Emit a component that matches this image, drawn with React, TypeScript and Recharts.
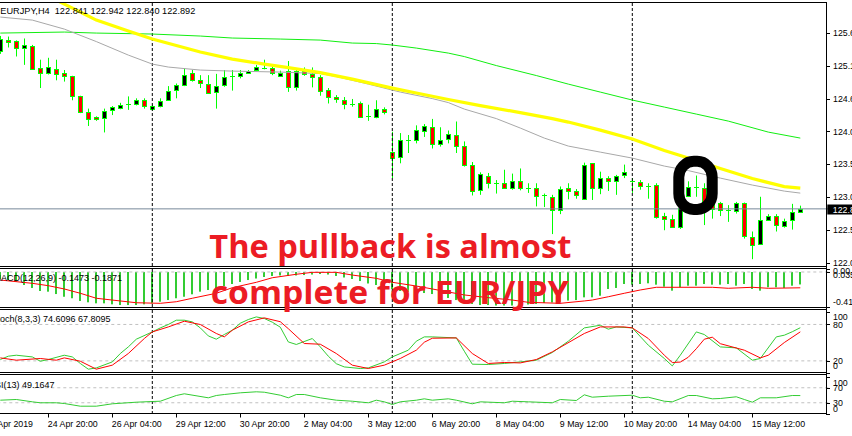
import React from "react";
import { Bar, ComposedChart, Line, ReferenceLine, XAxis, YAxis } from "recharts";

const WIDTH = 852;
const HEIGHT = 436;
const SLOTS = 104; // 101 candles + empty room before the price scale
const PLOT_LEFT = -3.7;
const AXIS_W = 23.7;
const FONT = '"Liberation Sans", Arial, sans-serif';
const AXIS_FONT = 8.8;

// EURJPY H4 candles, oldest first
const opens = [
  125.34, 125.52, 125.5, 125.39, 125.43, 125.08, 125.0, 125.07, 125.0, 124.95,
  124.64, 124.39, 124.32, 124.31, 124.42, 124.47, 124.52, 124.52, 124.58, 124.44,
  124.5, 124.59, 124.74, 124.82, 125.0, 124.89, 124.84, 124.7, 124.82, 124.95,
  124.95, 125.0, 125.04, 125.08, 125.08, 124.97, 125.03, 124.78, 125.03, 124.99,
  124.94, 124.74, 124.63, 124.58, 124.52, 124.54, 124.34, 124.32, 124.45, 123.78,
  123.69, 123.96, 123.96, 124.11, 124.17, 123.91, 123.97, 124.04, 123.87, 123.58,
  123.18, 123.41, 123.3, 123.3, 123.22, 123.33, 123.21, 123.22, 123.1, 123.08,
  122.88, 123.22, 123.17, 123.05, 123.6, 123.21, 123.37, 123.34, 123.42, 123.33,
  123.31, 123.25, 123.27, 122.78, 122.74, 122.61, 123.09, 123.23, 123.21, 122.97,
  122.99, 122.88, 122.86, 122.98, 122.46, 122.34, 122.72, 122.78, 122.64, 122.72,
  122.841,
];
const highs = [
  125.58, 125.57, 125.51, 125.54, 125.44, 125.21, 125.24, 125.21, 125.05, 124.96,
  124.65, 124.45, 124.33, 124.45, 124.49, 124.54, 124.64, 124.61, 124.61, 124.51,
  124.61, 124.8, 124.84, 125.08, 125.05, 124.97, 124.97, 124.99, 125.05, 125.05,
  125.05, 125.05, 125.13, 125.21, 125.1, 125.04, 125.19, 125.05, 125.09, 125.09,
  124.97, 124.77, 124.66, 124.63, 124.6, 124.56, 124.51, 124.58, 124.47, 124.09,
  124.07, 124.04, 124.19, 124.21, 124.29, 124.16, 124.11, 124.25, 123.94, 123.62,
  123.46, 123.45, 123.34, 123.5, 123.44, 123.52, 123.29, 123.29, 123.13, 123.11,
  123.24, 123.29, 123.2, 123.61, 123.6, 123.47, 123.4, 123.42, 123.58, 123.37,
  123.34, 123.29, 123.29, 122.83, 122.8, 122.93, 123.32, 123.41, 123.29, 123.0,
  123.0, 122.95, 123.0, 122.99, 122.54, 123.08, 122.81, 122.81, 122.74, 122.97,
  122.942,
];
const lows = [
  125.3, 125.4, 125.26, 125.13, 125.06, 124.77, 124.98, 124.89, 124.87, 124.58,
  124.38, 124.18, 124.26, 124.08, 124.35, 124.44, 124.43, 124.5, 124.45, 124.42,
  124.47, 124.58, 124.61, 124.8, 124.87, 124.77, 124.68, 124.45, 124.79, 124.73,
  124.92, 124.99, 125.03, 125.06, 124.97, 124.95, 124.71, 124.73, 124.96, 124.78,
  124.65, 124.53, 124.54, 124.44, 124.48, 124.32, 124.26, 124.3, 124.36, 123.37,
  123.6, 123.76, 123.91, 124.01, 123.83, 123.86, 123.91, 123.76, 123.55, 123.1,
  123.11, 123.21, 123.13, 123.21, 123.19, 123.18, 123.14, 122.93, 122.92, 122.5,
  122.81, 123.04, 123.05, 123.03, 123.03, 123.12, 123.17, 123.11, 123.37, 123.14,
  123.19, 123.05, 122.74, 122.56, 122.6, 122.58, 123.08, 123.08, 122.64, 122.74,
  122.78, 122.69, 122.82, 122.43, 122.11, 122.33, 122.71, 122.54, 122.6, 122.57,
  122.84,
];
const closes = [
  125.53, 125.49, 125.39, 125.44, 125.08, 125.0, 125.09, 125.0, 124.96, 124.64,
  124.39, 124.28, 124.29, 124.42, 124.47, 124.51, 124.521, 124.58, 124.48, 124.49,
  124.57, 124.73, 124.82, 124.97, 124.89, 124.84, 124.7, 124.8, 124.94, 124.951,
  125.0, 125.03, 125.09, 125.081, 125.0, 125.01, 124.78, 125.03, 124.99, 124.95,
  124.73, 124.63, 124.6, 124.52, 124.521, 124.32, 124.341, 124.45, 124.41, 123.69,
  123.96, 123.961, 124.11, 124.18, 123.91, 123.97, 124.05, 123.87, 123.58, 123.18,
  123.43, 123.3, 123.301, 123.22, 123.33, 123.22, 123.211, 123.1, 123.101, 122.88,
  123.2, 123.17, 123.11, 123.58, 123.21, 123.37, 123.33, 123.41, 123.47, 123.331,
  123.25, 123.251, 122.78, 122.74, 122.61, 122.91, 123.23, 123.231, 122.98, 122.9,
  122.88, 122.881, 122.98, 122.47, 122.34, 122.72, 122.78, 122.64, 122.71, 122.85,
  122.892,
];

// moving averages, read at [candle index, price]
const maYellow: [number, number][] = [
  [4, 126.324], [8, 126.075], [10, 125.951], [12, 125.826], [16, 125.655], [19, 125.531],
  [25, 125.329], [29, 125.22], [33, 125.142], [36, 125.088], [40, 125.01], [44, 124.909],
  [49, 124.769], [52, 124.692], [56, 124.591], [60, 124.497], [65, 124.388], [69, 124.295],
  [71, 124.241], [75, 124.116], [79, 123.977], [83, 123.798], [86, 123.681], [90, 123.518],
  [94, 123.363], [98, 123.238], [100, 123.215],
];
const maGray: [number, number][] = [
  [0, 125.873], [4, 125.826], [8, 125.686], [12, 125.492], [16, 125.282], [19, 125.142],
  [21, 125.096], [25, 125.049], [29, 125.033], [35, 125.018], [40, 124.995], [42, 124.948],
  [46, 124.831], [50, 124.707], [54, 124.606], [56, 124.544], [58, 124.443], [62, 124.295],
  [65, 124.148], [68, 123.992], [71, 123.868], [75, 123.774], [79, 123.681], [83, 123.557],
  [86, 123.487], [90, 123.37], [94, 123.262], [98, 123.168], [100, 123.137],
];
const maGreen: [number, number][] = [
  [0, 125.624], [8, 125.64], [12, 125.624], [19, 125.609], [25, 125.578], [29, 125.547],
  [35, 125.531], [40, 125.515], [44, 125.469], [47, 125.461], [49, 125.438], [52, 125.391],
  [56, 125.313], [58, 125.259], [62, 125.119], [67, 124.964], [71, 124.831], [75, 124.707],
  [79, 124.583], [83, 124.474], [87, 124.365], [91, 124.256], [96, 124.085], [100, 123.992],
];

// MACD(12,26,9)
const macdMain = [
  -0.083, -0.095, -0.115, -0.154, -0.189, -0.225, -0.233, -0.261, -0.293, -0.311,
  -0.343, -0.359, -0.371, -0.371, -0.383, -0.391, -0.391, -0.391, -0.383, -0.371,
  -0.352, -0.332, -0.311, -0.293, -0.264, -0.233, -0.213, -0.189, -0.166, -0.142,
  -0.118, -0.095, -0.077, -0.059, -0.047, -0.041, -0.047, -0.041, -0.036, -0.03,
  -0.024, -0.03, -0.047, -0.065, -0.083, -0.107, -0.136, -0.154, -0.172, -0.201,
  -0.225, -0.237, -0.243, -0.249, -0.261, -0.284, -0.308, -0.332, -0.355, -0.379,
  -0.391, -0.391, -0.397, -0.397, -0.397, -0.391, -0.385, -0.379, -0.367, -0.361,
  -0.355, -0.338, -0.332, -0.3, -0.3, -0.281, -0.201, -0.189, -0.142, -0.15,
  -0.142, -0.134, -0.15, -0.174, -0.221, -0.181, -0.162, -0.162, -0.142, -0.15,
  -0.15, -0.142, -0.162, -0.142, -0.201, -0.221, -0.181, -0.181, -0.189, -0.162,
  -0.1473,
];
const macdSignal: [number, number][] = [
  [0, -0.095], [4, -0.134], [6, -0.162], [8, -0.201], [10, -0.252], [12, -0.311], [15, -0.343],
  [17, -0.364], [20, -0.371], [22, -0.352], [24, -0.311], [27, -0.252], [29, -0.186],
  [32, -0.122], [34, -0.068], [37, -0.027], [39, -0.004], [42, -0.004], [44, -0.036],
  [47, -0.075], [49, -0.122], [52, -0.166], [54, -0.201], [58, -0.272], [61, -0.304],
  [64, -0.332], [66, -0.359], [70, -0.371], [73, -0.343], [74, -0.332], [76, -0.293],
  [78, -0.252], [80, -0.213], [82, -0.181], [89, -0.181], [91, -0.193], [94, -0.181],
  [96, -0.193], [100, -0.1871],
];

// Stochastic(8,3,3)
const stochMain: [number, number][] = [
  [0, 22.2], [1, 27.7], [2, 29.3], [4, 26.5], [5, 19.4], [6, 22.2], [8, 29.3], [9, 26.5],
  [10, 15.7], [11, 6.3], [12, 8.4], [14, 18.3], [15, 32.1], [16, 43.0], [17, 55.7], [19, 67.7],
  [20, 74.3], [21, 79.9], [22, 87.0], [23, 87.0], [24, 84.2], [25, 74.3], [26, 61.1], [27, 55.7],
  [28, 63.4], [29, 70.5], [30, 82.0], [31, 88.1], [32, 92.4], [33, 89.8], [34, 83.7], [35, 75.5],
  [36, 51.2], [37, 47.0], [39, 56.8], [40, 43.0], [41, 27.7], [42, 15.3], [43, 10.0], [45, 7.4],
  [46, 8.4], [48, 18.3], [49, 26.5], [51, 37.6], [52, 52.4], [53, 59.5], [54, 59.5], [57, 57.8],
  [58, 35.9], [59, 14.5], [61, 14.0], [63, 15.7], [65, 18.3], [67, 21.1], [69, 33.8], [71, 52.4],
  [73, 74.3], [75, 78.7], [76, 72.2], [77, 75.9], [79, 74.3], [81, 45.8], [83, 23.9], [84, 11.7],
  [85, 29.3], [87, 67.7], [88, 63.4], [90, 43.0], [92, 41.4], [94, 21.1], [95, 23.9], [97, 59.5],
  [98, 62.3], [99, 68.0], [100, 74.6096],
];
const stochSignal: [number, number][] = [
  [0, 24.9], [2, 21.1], [5, 23.9], [7, 21.1], [8, 24.9], [10, 19.4], [12, 6.3], [14, 12.9],
  [16, 32.1], [18, 56.8], [19, 67.7], [21, 75.9], [23, 85.3], [25, 79.9], [27, 65.1], [28, 59.5],
  [29, 70.5], [31, 84.2], [33, 90.8], [35, 84.5], [36, 73.0], [38, 48.6], [40, 47.4], [42, 32.1],
  [44, 12.9], [46, 7.4], [48, 12.9], [50, 23.9], [52, 37.6], [53, 50.7], [54, 57.3], [57, 57.8],
  [59, 32.1], [61, 15.7], [63, 17.3], [65, 16.6], [67, 22.2], [69, 34.8], [73, 65.1], [75, 75.9],
  [78, 75.9], [79, 74.3], [81, 56.8], [83, 29.3], [84, 17.3], [85, 18.0], [86, 26.0], [87, 40.0],
  [88, 55.7], [89, 59.0], [90, 48.3], [93, 37.6], [95, 24.9], [96, 29.3], [98, 50.2], [100, 67.8095],
];

// RSI(13)
const rsiLine: [number, number][] = [
  [0, 36.8], [2, 38.7], [4, 32.5], [5, 29.9], [7, 29.9], [8, 28.0], [10, 20.8], [12, 20.8],
  [14, 27.2], [17, 31.5], [19, 33.3], [20, 34.1], [22, 49.3], [23, 53.9], [26, 43.2], [27, 49.3],
  [28, 52.0], [30, 56.5], [32, 59.2], [33, 58.1], [35, 50.1], [36, 43.2], [37, 52.0], [38, 52.0],
  [40, 43.2], [42, 36.8], [44, 34.1], [46, 29.9], [47, 36.8], [48, 32.5], [49, 25.3], [50, 32.5],
  [52, 36.8], [53, 40.5], [54, 36.8], [56, 40.5], [57, 36.8], [59, 27.2], [60, 32.5], [63, 29.9],
  [64, 34.1], [66, 32.5], [69, 29.9], [70, 38.7], [72, 36.0], [73, 51.2], [74, 44.8], [76, 47.5],
  [79, 50.1], [80, 43.2], [81, 44.8], [83, 34.1], [84, 32.5], [86, 49.3], [87, 49.3], [89, 40.5],
  [90, 41.3], [92, 45.9], [93, 38.7], [94, 31.5], [95, 43.2], [97, 43.2], [99, 49.3], [100, 49.1647],
];

const priceTicks = [125.625, 125.115, 124.605, 124.095, 123.585, 123.075, 122.565, 122.055];
const timeLabels: [number, string][] = [
  [0, "23 Apr 2019"], [6, "24 Apr 20:00"], [14, "26 Apr 04:00"], [22, "29 Apr 12:00"],
  [30, "30 Apr 20:00"], [38, "2 May 04:00"], [46, "3 May 12:00"], [54, "6 May 20:00"],
  [62, "8 May 04:00"], [70, "9 May 12:00"], [78, "10 May 20:00"], [86, "14 May 04:00"],
  [94, "15 May 12:00"],
];
const weekSeparators = [19, 49, 79];
const lastPrice = 122.892;

const yellowMap = new Map(maYellow);
const grayMap = new Map(maGray);
const greenMap = new Map(maGreen);
const signalMap = new Map(macdSignal);
const stochMap = new Map(stochMain);
const stochSigMap = new Map(stochSignal);
const rsiMap = new Map(rsiLine);
const timeMap = new Map(timeLabels);

const rows = Array.from({ length: SLOTS }, (_, i) => ({
  i,
  open: opens[i] ?? null,
  high: highs[i] ?? null,
  low: lows[i] ?? null,
  close: closes[i] ?? null,
  maYellow: yellowMap.get(i) ?? null,
  maGray: grayMap.get(i) ?? null,
  maGreen: greenMap.get(i) ?? null,
  macd: macdMain[i] ?? null,
  signal: signalMap.get(i) ?? null,
  stoch: stochMap.get(i) ?? null,
  stochSig: stochSigMap.get(i) ?? null,
  rsi: rsiMap.get(i) ?? null,
}));

function Candle(props: any) {
  const { x, y, width, height, payload } = props;
  if (!payload || payload.high == null) return null;
  const { open, high, low, close } = payload;
  const span = high - low;
  const k = span > 0 ? height / span : 0;
  const py = (v: number) => y + (high - v) * k;
  const cx = Math.floor(x + width / 2) + 0.5;
  const top = py(Math.max(open, close));
  const bot = py(Math.min(open, close));
  const bull = close >= open;
  return (
    <g>
      <line x1={cx} x2={cx} y1={y} y2={y + height} stroke="#00ff00" />
      {bot - top < 1 ? (
        <line x1={cx - 2.5} x2={cx + 2.5} y1={Math.round(top) + 0.5} y2={Math.round(top) + 0.5} stroke="#00ff00" />
      ) : (
        <rect
          x={cx - 2}
          y={Math.round(top) + 0.5}
          width={4}
          height={Math.max(1, Math.round(bot - top))}
          fill={bull ? "#000000" : "#ff0000"}
          stroke="#00ff00"
        />
      )}
    </g>
  );
}

function HistBar(props: any) {
  const { x, y, width, height } = props;
  if (height == null || isNaN(height)) return null;
  const top = Math.min(y, y + height);
  const col = Math.floor(x + width / 2);
  return <rect x={col - 1} y={top} width={2} height={Math.abs(height)} fill="#33cc33" />;
}

function SideTick(props: any) {
  const { x, y, payload, fmt, shift } = props;
  const v = payload.value;
  const row = Math.round(y) + 0.5;
  return (
    <g>
      <line x1={x - 2.3} x2={x + 1.7} y1={row} y2={row} stroke="#000" />
      <text x={x + 4.7} y={y + (shift ? shift(v) : 0) + 3.2} fontSize={AXIS_FONT} fontFamily={FONT} fill="#000">
        {fmt(v)}
      </text>
    </g>
  );
}

function TimeTick(props: any) {
  const { x, y, payload } = props;
  const label = timeMap.get(payload.value);
  if (!label) return null;
  if (payload.value === 0) {
    return (
      <text x={x + 32.7} y={y + 13} fontSize={AXIS_FONT} fontFamily={FONT} textAnchor="end" fill="#000">
        {label}
      </text>
    );
  }
  const col = Math.floor(x) + 0.5;
  return (
    <g>
      <line x1={col} x2={col} y1={y} y2={y + 3.5} stroke="#000" />
      <text x={x - 0.5} y={y + 13} fontSize={AXIS_FONT} fontFamily={FONT} fill="#000">
        {label}
      </text>
    </g>
  );
}

function LastPriceTag(props: any) {
  const vb = props.viewBox;
  if (!vb) return null;
  const yy = Math.round(vb.y);
  const x0 = vb.x + vb.width - 1;
  return (
    <g>
      <rect x={x0} y={yy - 4.5} width={30} height={10} fill="#000" />
      <text x={x0 + 5.5} y={yy + 3.5} fontSize={AXIS_FONT} fontFamily={FONT} fill="#fff">
        {lastPrice.toFixed(3)}
      </text>
    </g>
  );
}

const separatorLines = (key: string) =>
  weekSeparators.map((s) => (
    <ReferenceLine key={key + s} x={s} stroke="#000" strokeDasharray="3 2" ifOverflow="visible" />
  ));

const layer: React.CSSProperties = { position: "absolute", left: 0, top: 0 };

export default function App() {
  const frameRows = [2, 266, 268, 307, 309, 372, 374, 413];
  return (
    <div style={{ position: "absolute", left: 0, top: 0, width: WIDTH, height: HEIGHT, background: "#fff", overflow: "hidden" }}>
      {/* price panel */}
      <div style={layer}>
        <ComposedChart width={WIDTH} height={HEIGHT} data={rows} margin={{ top: 2, right: 0, bottom: 170, left: PLOT_LEFT }}>
          <XAxis dataKey="i" type="category" scale="band" hide />
          <YAxis
            orientation="right"
            width={AXIS_W}
            type="number"
            domain={[122.004, 126.107]}
            allowDataOverflow
            ticks={priceTicks}
            interval={0}
            tickLine={false}
            axisLine={false}
            tickSize={0}
            tickMargin={0}
            tick={<SideTick fmt={(v: number) => v.toFixed(3)} />}
          />
          {separatorLines("p")}
          <ReferenceLine y={lastPrice} stroke="#778899" label={<LastPriceTag />} />
          <Line dataKey="maGreen" stroke="#11ee11" strokeWidth={1} dot={false} activeDot={false} connectNulls isAnimationActive={false} />
          <Line dataKey="maGray" stroke="#a8a8a8" strokeWidth={1} dot={false} activeDot={false} connectNulls isAnimationActive={false} />
          <Line dataKey="maYellow" stroke="#ffff00" strokeWidth={3.2} dot={false} activeDot={false} connectNulls isAnimationActive={false} />
          <Bar
            dataKey={(d: any) => (d.high == null ? null : [d.low, d.high])}
            shape={<Candle />}
            isAnimationActive={false}
          />
        </ComposedChart>
      </div>

      {/* MACD */}
      <div style={layer}>
        <ComposedChart width={WIDTH} height={HEIGHT} data={rows} margin={{ top: 269, right: 0, bottom: 129, left: PLOT_LEFT }}>
          <XAxis dataKey="i" type="category" scale="band" hide />
          <YAxis
            orientation="right"
            width={AXIS_W}
            type="number"
            domain={[-0.4145, 0.0355]}
            allowDataOverflow
            ticks={[0.0355, 0, -0.4145]}
            interval={0}
            tickLine={false}
            axisLine={false}
            tickSize={0}
            tickMargin={0}
            tick={
              <SideTick
                fmt={(v: number) => (v === 0 ? "0.00" : String(v))}
                shift={(v: number) => (v > 0 ? 6 : v === 0 ? -1.5 : -5.3)}
              />
            }
          />
          <ReferenceLine y={0} stroke="#c0c0c0" strokeDasharray="3 3" />
          {separatorLines("m")}
          <Bar dataKey="macd" shape={<HistBar />} isAnimationActive={false} />
          <Line dataKey="signal" stroke="#ff0000" strokeWidth={1} dot={false} activeDot={false} connectNulls isAnimationActive={false} />
        </ComposedChart>
      </div>

      {/* Stochastic */}
      <div style={layer}>
        <ComposedChart width={WIDTH} height={HEIGHT} data={rows} margin={{ top: 310, right: 0, bottom: 63, left: PLOT_LEFT }}>
          <XAxis dataKey="i" type="category" scale="band" hide />
          <YAxis
            orientation="right"
            width={AXIS_W}
            type="number"
            domain={[0, 103.8]}
            allowDataOverflow
            ticks={[100, 80, 20, 0]}
            interval={0}
            tickLine={false}
            axisLine={false}
            tickSize={0}
            tickMargin={0}
            tick={
              <SideTick
                fmt={(v: number) => String(v)}
                shift={(v: number) => (v === 100 ? 4.4 : v === 0 ? -7 : 0)}
              />
            }
          />
          <ReferenceLine y={80} stroke="#c0c0c0" strokeDasharray="3 3" />
          <ReferenceLine y={20} stroke="#c0c0c0" strokeDasharray="3 3" />
          {separatorLines("s")}
          <Line dataKey="stoch" stroke="#33cc33" strokeWidth={1} dot={false} activeDot={false} connectNulls isAnimationActive={false} />
          <Line dataKey="stochSig" stroke="#ff0000" strokeWidth={1} dot={false} activeDot={false} connectNulls isAnimationActive={false} />
        </ComposedChart>
      </div>

      {/* RSI + time axis */}
      <div style={layer}>
        <ComposedChart width={WIDTH} height={HEIGHT} data={rows} margin={{ top: 375, right: 0, bottom: 0, left: PLOT_LEFT }}>
          <XAxis
            dataKey="i"
            type="category"
            scale="band"
            height={22}
            interval={0}
            tickLine={false}
            axisLine={false}
            tickSize={0}
            tickMargin={0}
            tick={<TimeTick />}
          />
          <YAxis
            orientation="right"
            width={AXIS_W}
            type="number"
            domain={[0, 104]}
            allowDataOverflow
            ticks={[100, 70, 30, 0]}
            interval={0}
            tickLine={false}
            axisLine={false}
            tickSize={0}
            tickMargin={0}
            tick={
              <SideTick
                fmt={(v: number) => String(v)}
                shift={(v: number) => (v === 100 ? 6.2 : v === 0 ? -5 : 0)}
              />
            }
          />
          <ReferenceLine y={70} stroke="#c0c0c0" strokeDasharray="3 3" />
          <ReferenceLine y={30} stroke="#c0c0c0" strokeDasharray="3 3" />
          {separatorLines("r")}
          <Line dataKey="rsi" stroke="#33cc33" strokeWidth={1} dot={false} activeDot={false} connectNulls isAnimationActive={false} />
        </ComposedChart>
      </div>

      {/* frames, captions and annotations */}
      <svg width={WIDTH} height={HEIGHT} style={layer}>
        {frameRows.map((r) => (
          <line key={r} x1={0} x2={827} y1={r + 0.5} y2={r + 0.5} stroke="#000" />
        ))}
        <line x1={826.5} x2={826.5} y1={2} y2={414} stroke="#000" />
        <text x={0.3} y={14} fontSize={9.2} fontFamily={FONT} fill="#000" style={{ whiteSpace: "pre" }}>
          {"EURJPY,H4  122.841 122.942 122.840 122.892"}
        </text>
        <text x={-6.5} y={281} fontSize={9} fontFamily={FONT} fill="#000">
          MACD(12,26,9) -0.1473 -0.1871
        </text>
        <text x={-8.5} y={322} fontSize={9} fontFamily={FONT} fill="#000">
          Stoch(8,3,3) 74.6096 67.8095
        </text>
        <text x={-11.5} y={388} fontSize={9} fontFamily={FONT} fill="#000">
          RSI(13) 49.1647
        </text>
        <rect x={678.8} y={161.3} width={33.4} height={48.2} rx={15} ry={16} fill="none" stroke="#000" strokeWidth={11} />
        <text
          x={209.3}
          y={258.3}
          fontSize={32.6}
          fontFamily='"Open Sans", sans-serif'
          fontWeight={700}
          fill="#ec1c24"
          textLength={362}
          lengthAdjust="spacingAndGlyphs"
        >
          The pullback is almost
        </text>
        <text
          x={210.7}
          y={303.8}
          fontSize={32.6}
          fontFamily='"Open Sans", sans-serif'
          fontWeight={700}
          fill="#ec1c24"
          textLength={358}
          lengthAdjust="spacingAndGlyphs"
        >
          complete for EUR/JPY
        </text>
      </svg>
    </div>
  );
}
